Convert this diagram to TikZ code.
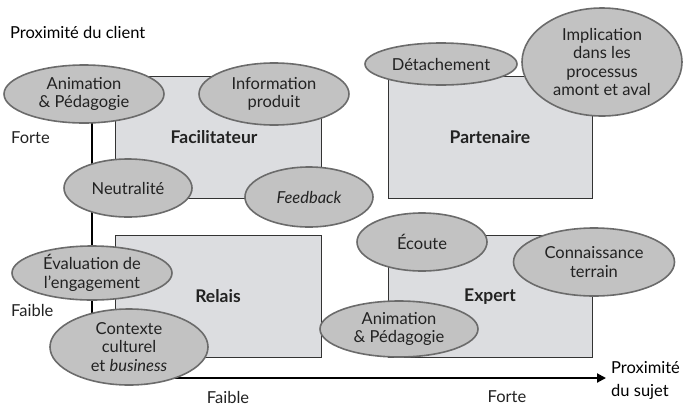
\documentclass[tikz,border=0pt]{standalone}
\usepackage{fontspec}
\setmainfont{Lato}
\usetikzlibrary{shapes.geometric,arrows.meta}
\definecolor{boxfill}{HTML}{DCDDE0}
\definecolor{ellfill}{HTML}{C2C2C2}
\definecolor{ellline}{HTML}{6B6B6B}
\definecolor{ink}{HTML}{222222}
\tikzset{
  quad/.style={draw=black!80,line width=0.9pt,fill=boxfill},
  qlabel/.style={font=\fontsize{17.5}{20}\selectfont\bfseries,text=ink},
  bubble/.style={ellipse,draw=ellline,line width=1.6pt,fill=ellfill,inner sep=0pt,
    align=center,font=\fontsize{16.5}{18.5}\selectfont,text=ink},
  axis/.style={line width=2pt,black},
  txt/.style={font=\fontsize{16.5}{19}\selectfont,text=ink,inner sep=0pt},
  head/.style={font=\fontsize{16.5}{23}\selectfont,text=black,inner sep=0pt}
}
\begin{document}
\begin{tikzpicture}[x=1pt,y=-1pt]
\useasboundingbox (0,0) rectangle (696,408);
% quadrants
\draw[quad] (115,76) rectangle (321,198);
\draw[quad] (388,76) rectangle (592,198);
\draw[quad] (115,235) rectangle (321,357);
\draw[quad] (388,235) rectangle (592,357);
\node[qlabel] (fac) at (214,137) {Facilitateur};
\node[qlabel] (par) at (490,137) {Partenaire};
\node[qlabel] (rel) at (218,296) {Relais};
\node[qlabel] (exp) at (490,297) {Expert};
% axes
\coordinate (o) at (92,378);
\coordinate (ytop) at (92,85);
\coordinate (xend) at (606,378);
\draw[axis] (ytop) -- (o);
\draw[axis,-{Triangle[length=9pt,width=9pt]}] (o) -- (xend);
% axis labels
\node[head,anchor=west] (ycl) at (10,32) {Proximité du client};
\node[txt,anchor=west] (yf) at (11,138) {Forte};
\node[txt,anchor=west] (yl) at (11,310) {Faible};
\node[txt] (xl) at (228,397) {Faible};
\node[txt] (xf) at (507,397) {Forte};
\node[head,anchor=west,align=left] (xcl) at (611,380) {Proximité\\du sujet};
% bubbles
\node[bubble,minimum width=160pt,minimum height=58pt] (b1) at (84,94) {Animation\\\& Pédagogie};
\node[bubble,minimum width=150pt,minimum height=62pt] (b2) at (274,94) {Information\\produit};
\node[bubble,minimum width=128pt,minimum height=58pt] (b3) at (128,188) {Neutralité};
\node[bubble,minimum width=128pt,minimum height=60pt] (b4) at (309,197) {\itshape Feedback};
\node[bubble,minimum width=152pt,minimum height=42pt] (b5) at (441,64) {Détachement};
\node[bubble,minimum width=160pt,minimum height=108pt] (b6) at (602,62) {Implication\\dans les\\processus\\amont et aval};
\node[bubble,minimum width=160pt,minimum height=54pt] (b7) at (92,273) {Évaluation de\\l’engagement};
\node[bubble,minimum width=158pt,minimum height=76pt] (b8) at (129,347) {Contexte\\culturel\\et \textit{business}};
\node[bubble,minimum width=130pt,minimum height=58pt] (b9) at (422,242) {Écoute};
\node[bubble,minimum width=161pt,minimum height=68pt] (b10) at (594,262) {Connaissance\\terrain};
\node[bubble,minimum width=158pt,minimum height=56pt] (b11) at (399,329) {Animation\\\& Pédagogie};
\end{tikzpicture}
\end{document}
